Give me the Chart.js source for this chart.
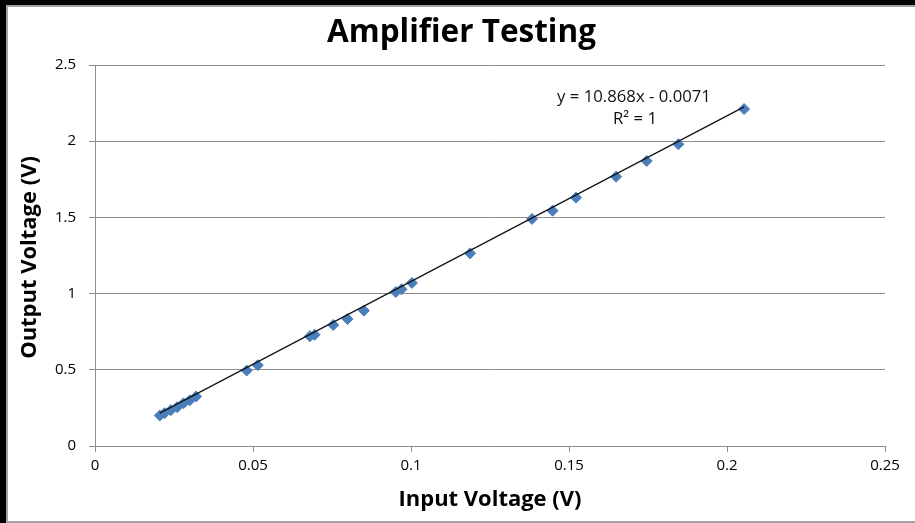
<!DOCTYPE html>
<html>
<head>
<meta charset="utf-8">
<script src="https://cdn.jsdelivr.net/npm/chart.js@4.4.1/dist/chart.umd.min.js"></script>
<style>
  html, body { margin: 0; padding: 0; background: #000; width: 915px; height: 523px; overflow: hidden; }
  #wrap { position: absolute; left: 6px; top: 5px; width: 909px; height: 518px; box-sizing: border-box;
          background: #fff; border-left: 2px solid #a3a3a3; border-top: 2px solid #a3a3a3; border-bottom: 2px solid #a3a3a3; }
  #c { position: absolute; left: 0; top: 0; }
</style>
</head>
<body>
<div id="wrap"><canvas id="c" width="907" height="514"></canvas></div>
<script>
// ---- data ----
const inputVoltage  = [0.0205, 0.022, 0.024, 0.026, 0.028, 0.030, 0.032, 0.048, 0.0515, 0.068, 0.0695,
                       0.0754, 0.0799, 0.0851, 0.0952, 0.097, 0.1003, 0.1187, 0.1383, 0.1448, 0.1522,
                       0.1649, 0.1746, 0.1846, 0.2054];
const outputVoltage = [0.20, 0.215, 0.235, 0.255, 0.28, 0.30, 0.325, 0.495, 0.53, 0.72, 0.73,
                       0.794, 0.833, 0.888, 1.01, 1.028, 1.07, 1.264, 1.49, 1.544, 1.63,
                       1.767, 1.87, 1.98, 2.211];
const xTickLabels = ['0', '0.05', '0.1', '0.15', '0.2', '0.25'];
const yTickLabels = ['0', '0.5', '1', '1.5', '2', '2.5'];
const trendSlope = 10.868;
const trendIntercept = -0.0071;
const equationText = 'y = 10.868x - 0.0071';
const rSquaredText = 'R² = 1';
const chartTitle = 'Amplifier Testing';
const xTitle = 'Input Voltage (V)';
const yTitle = 'Output Voltage (V)';

const scatterData = inputVoltage.map((x, i) => ({ x: x, y: outputVoltage[i] }));
const xMin = Math.min(...inputVoltage), xMax = Math.max(...inputVoltage);
const trendData = [
  { x: xMin, y: trendSlope * xMin + trendIntercept },
  { x: xMax, y: trendSlope * xMax + trendIntercept }
];

const FAMILY = "'Open Sans', 'Noto Sans', sans-serif";
function fitFont(ctx, text, weight, target) {
  ctx.font = weight + ' 100px ' + FAMILY;
  const w = ctx.measureText(text).width;
  return 100 * target / w;
}

const textPlugin = {
  id: 'texts',
  afterDraw(chart) {
    const ctx = chart.ctx, a = chart.chartArea;
    ctx.save();
    ctx.fillStyle = '#000';
    ctx.textAlign = 'center';
    ctx.textBaseline = 'middle';
    // title
    let s = fitFont(ctx, chartTitle, 'bold', 269);
    ctx.font = 'bold ' + s + 'px ' + FAMILY;
    ctx.fillText(chartTitle, chart.width / 2, 26);
    // axis titles
    s = fitFont(ctx, xTitle, 'bold', 183);
    ctx.font = 'bold ' + s + 'px ' + FAMILY;
    ctx.fillText(xTitle, (a.left + a.right) / 2, 493);
    ctx.save();
    ctx.translate(22, (a.top + a.bottom) / 2 + 2);
    ctx.rotate(-Math.PI / 2);
    ctx.fillText(yTitle, 0, 0);
    ctx.restore();
    // trendline label
    s = fitFont(ctx, equationText, 'normal', 154);
    ctx.font = s + 'px ' + FAMILY;
    ctx.fillStyle = '#111';
    ctx.fillText(equationText, 626, 90);
    ctx.fillText(rSquaredText, 627, 112);
    ctx.restore();
  }
};

new Chart(document.getElementById('c'), {
  type: 'scatter',
  data: {
    datasets: [
      { type: 'line', data: trendData, borderColor: '#111', borderWidth: 1.2, pointRadius: 0,
        fill: false, order: 0 },
      { data: scatterData, pointStyle: 'rectRot', pointRadius: 5.5, pointHoverRadius: 5.5,
        backgroundColor: '#4a7ebb', borderColor: '#4a7ebb', borderWidth: 1, order: 1 }
    ]
  },
  options: {
    responsive: false,
    animation: false,
    events: [],
    layout: { padding: { left: 0, right: 30, top: 58, bottom: 0 } },
    plugins: { legend: { display: false }, tooltip: { enabled: false }, title: { display: false } },
    scales: {
      x: {
        type: 'linear', min: 0, max: 0.25,
        afterFit(scale) { scale.height = 75; },
        grid: { drawOnChartArea: false, drawTicks: true, tickLength: 6, color: '#8e8e8e', lineWidth: 1 },
        border: { color: '#8e8e8e', width: 1 },
        ticks: { stepSize: 0.05, padding: 5, color: '#000', maxRotation: 0, autoSkip: false,
                 font: { family: FAMILY, size: 15 },
                 callback: (v, i) => xTickLabels[i] }
      },
      y: {
        type: 'linear', min: 0, max: 2.5,
        afterFit(scale) { scale.width = 87; },
        grid: { drawOnChartArea: true, drawTicks: true, tickLength: 6, color: '#8e8e8e', lineWidth: 1 },
        border: { color: '#8e8e8e', width: 1 },
        ticks: { stepSize: 0.5, padding: 13, color: '#000', autoSkip: false,
                 font: { family: FAMILY, size: 15 },
                 callback: (v, i) => yTickLabels[i] }
      }
    }
  },
  plugins: [textPlugin]
});
</script>
</body>
</html>
